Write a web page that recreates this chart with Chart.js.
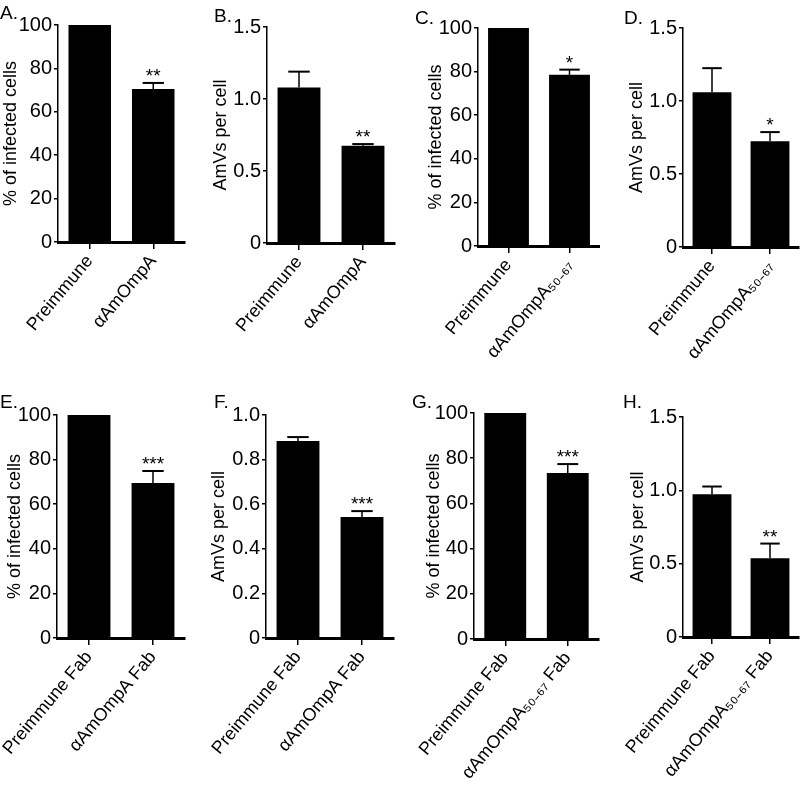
<!DOCTYPE html>
<html>
<head>
<meta charset="utf-8">
<script src="https://cdn.jsdelivr.net/npm/chart.js@4.4.1/dist/chart.umd.min.js"></script>
<style>
  body { margin: 0; background: #fff; }
  #fig { position: relative; width: 800px; height: 787px; overflow: hidden; }
  .panel { position: absolute; }
  .letter { position: absolute; font: 19px "Liberation Sans", Arial, sans-serif; color: #000; line-height: 1; }
</style>
</head>
<body>
<div id="fig"></div>
<script>
const panelLetters = ["A.", "B.", "C.", "D.", "E.", "F.", "G.", "H."];

const wholeLabels = ["Preimmune", "αAmOmpA"];
const peptideLabels = ["Preimmune", "αAmOmpA₅₀₋₆₇"];
const fabLabels = ["Preimmune Fab", "αAmOmpA Fab"];
const peptideFabLabels = ["Preimmune Fab", "αAmOmpA₅₀₋₆₇ Fab"];

const percentTitle = "% of infected cells";
const amvTitle = "AmVs per cell";

const percentTicks = [0, 20, 40, 60, 80, 100];
const amvTicks = [0, 0.5, 1.0, 1.5];
const amvFabTicks = [0, 0.2, 0.4, 0.6, 0.8, 1.0];

const valuesA = [100, 70.5];
const errorsA = [0, 2.8];
const starsA = ["", "**"];

const valuesB = [1.08, 0.675];
const errorsB = [0.11, 0.012];
const starsB = ["", "**"];

const valuesC = [100, 78.5];
const errorsC = [0, 2.4];
const starsC = ["", "*"];

const valuesD = [1.06, 0.725];
const errorsD = [0.165, 0.062];
const starsD = ["", "*"];

const valuesE = [100, 69.5];
const errorsE = [0, 5.4];
const starsE = ["", "***"];

const valuesF = [0.883, 0.543];
const errorsF = [0.018, 0.026];
const starsF = ["", "***"];

const valuesG = [100, 73.5];
const errorsG = [0, 3.9];
const starsG = ["", "***"];

const valuesH = [0.973, 0.537];
const errorsH = [0.053, 0.1];
const starsH = ["", "**"];

const FONT = '"Liberation Sans", Arial, sans-serif';

// upward-only error bars with caps, and the significance stars above them
const errorBars = {
  id: "errorBars",
  afterDatasetsDraw(chart, args, opts) {
    const { ctx } = chart;
    const y = chart.scales.y;
    const meta = chart.getDatasetMeta(0);
    ctx.save();
    ctx.strokeStyle = "#000";
    ctx.fillStyle = "#000";
    meta.data.forEach((bar, i) => {
      const v = opts.values[i];
      const e = opts.errors[i];
      const yTop = y.getPixelForValue(v + e);
      const half = bar.width / 4;
      if (e > 0) {
        ctx.lineWidth = 1.5;
        ctx.beginPath();
        ctx.moveTo(bar.x, bar.y);
        ctx.lineTo(bar.x, yTop);
        ctx.stroke();
        ctx.lineWidth = 2;
        ctx.beginPath();
        ctx.moveTo(bar.x - half, yTop);
        ctx.lineTo(bar.x + half, yTop);
        ctx.stroke();
      }
      if (opts.stars[i]) {
        ctx.font = "19px " + FONT;
        ctx.textAlign = "center";
        ctx.textBaseline = "alphabetic";
        ctx.fillText(opts.stars[i], bar.x, yTop - 1);
      }
    });
    ctx.restore();
  },
};

const panels = [
  { labels: wholeLabels, values: valuesA, errors: errorsA, stars: starsA, ticks: percentTicks, title: percentTitle,
    x: 0, y: 0, w: 200, h: 390, left: 58, right: 185, top: 25, bottom: 242, titlePad: 0, lx: 0, ly: 3 },
  { labels: wholeLabels, values: valuesB, errors: errorsB, stars: starsB, ticks: amvTicks, title: amvTitle,
    x: 200, y: 0, w: 200, h: 390, left: 67, right: 195, top: 27, bottom: 243, titlePad: 10, lx: 214, ly: 6 },
  { labels: peptideLabels, values: valuesC, errors: errorsC, stars: starsC, ticks: percentTicks, title: percentTitle,
    x: 400, y: 0, w: 200, h: 390, left: 78, right: 200, top: 28, bottom: 246, titlePad: 25, lx: 415, ly: 8 },
  { labels: peptideLabels, values: valuesD, errors: errorsD, stars: starsD, ticks: amvTicks, title: amvTitle,
    x: 600, y: 0, w: 200, h: 390, left: 83, right: 199, top: 28, bottom: 247, titlePad: 26, lx: 624, ly: 8 },
  { labels: fabLabels, values: valuesE, errors: errorsE, stars: starsE, ticks: percentTicks, title: percentTitle,
    x: 0, y: 390, w: 200, h: 397, left: 57, right: 185, top: 25, bottom: 248, titlePad: 4, lx: 0, ly: 392 },
  { labels: fabLabels, values: valuesF, errors: errorsF, stars: starsF, ticks: amvFabTicks, title: amvTitle,
    x: 200, y: 390, w: 200, h: 397, left: 66, right: 194, top: 25, bottom: 248, titlePad: 8, lx: 214, ly: 392 },
  { labels: peptideFabLabels, values: valuesG, errors: errorsG, stars: starsG, ticks: percentTicks, title: percentTitle,
    x: 400, y: 390, w: 200, h: 397, left: 74, right: 199, top: 23, bottom: 249, titlePad: 23, lx: 412, ly: 392 },
  { labels: peptideFabLabels, values: valuesH, errors: errorsH, stars: starsH, ticks: amvTicks, title: amvTitle,
    x: 600, y: 390, w: 200, h: 397, left: 83, right: 199, top: 27, bottom: 247, titlePad: 27, lx: 623, ly: 392 },
];

const fig = document.getElementById("fig");

const makePanel = (p, idx) => {
  const wrap = document.createElement("div");
  wrap.className = "panel";
  wrap.style.left = p.x + "px";
  wrap.style.top = p.y + "px";
  const canvas = document.createElement("canvas");
  canvas.width = p.w;
  canvas.height = p.h;
  wrap.appendChild(canvas);
  fig.appendChild(wrap);

  const letter = document.createElement("div");
  letter.className = "letter";
  letter.textContent = panelLetters[idx];
  letter.style.left = p.lx + "px";
  letter.style.top = p.ly + "px";
  fig.appendChild(letter);

  const maxTick = p.ticks[p.ticks.length - 1];

  new Chart(canvas.getContext("2d"), {
    type: "bar",
    data: {
      labels: p.labels,
      datasets: [
        {
          data: p.values,
          backgroundColor: "#000",
          borderColor: "#000",
          borderWidth: 0,
          barPercentage: 0.67,
          categoryPercentage: 1,
        },
      ],
    },
    options: {
      responsive: false,
      animation: false,
      devicePixelRatio: 1,
      events: [],
      layout: { padding: { top: p.top, left: 0, right: p.w - p.right, bottom: 0 } },
      plugins: {
        legend: { display: false },
        tooltip: { enabled: false },
        errorBars: { values: p.values, errors: p.errors, stars: p.stars },
      },
      scales: {
        x: {
          grid: { display: true, offset: false, drawOnChartArea: false, drawTicks: true, tickLength: 7, color: "#000", lineWidth: 1.5 },
          border: { display: true, color: "#000", width: 3 },
          ticks: {
            autoSkip: false,
            minRotation: 50,
            maxRotation: 50,
            padding: 2,
            color: "#000",
            font: { family: FONT, size: 18 },
          },
          afterFit: (s) => {
            s.height = p.h - p.bottom;
            // keep the long rotated labels from pushing the plot area right
            s.paddingLeft = 0;
            s.paddingRight = 0;
          },
        },
        y: {
          min: 0,
          max: maxTick,
          grid: { display: true, drawOnChartArea: false, drawTicks: true, tickLength: 4, color: "#000", lineWidth: 1.5 },
          border: { display: true, color: "#000", width: 1.5 },
          afterBuildTicks: (s) => { s.ticks = p.ticks.map((v) => ({ value: v })); },
          ticks: {
            padding: 2,
            color: "#000",
            font: { family: FONT, size: 20 },
            callback: (v) => (maxTick > 10 || v === 0 ? String(v) : v.toFixed(1)),
          },
          title: {
            display: true,
            text: p.title,
            color: "#000",
            font: { family: FONT, size: 18 },
            padding: { top: p.titlePad, bottom: 0 },
          },
          afterFit: (s) => { s.width = p.left; },
        },
      },
    },
    plugins: [errorBars],
  });
};

panels.forEach(makePanel);
</script>
</body>
</html>
